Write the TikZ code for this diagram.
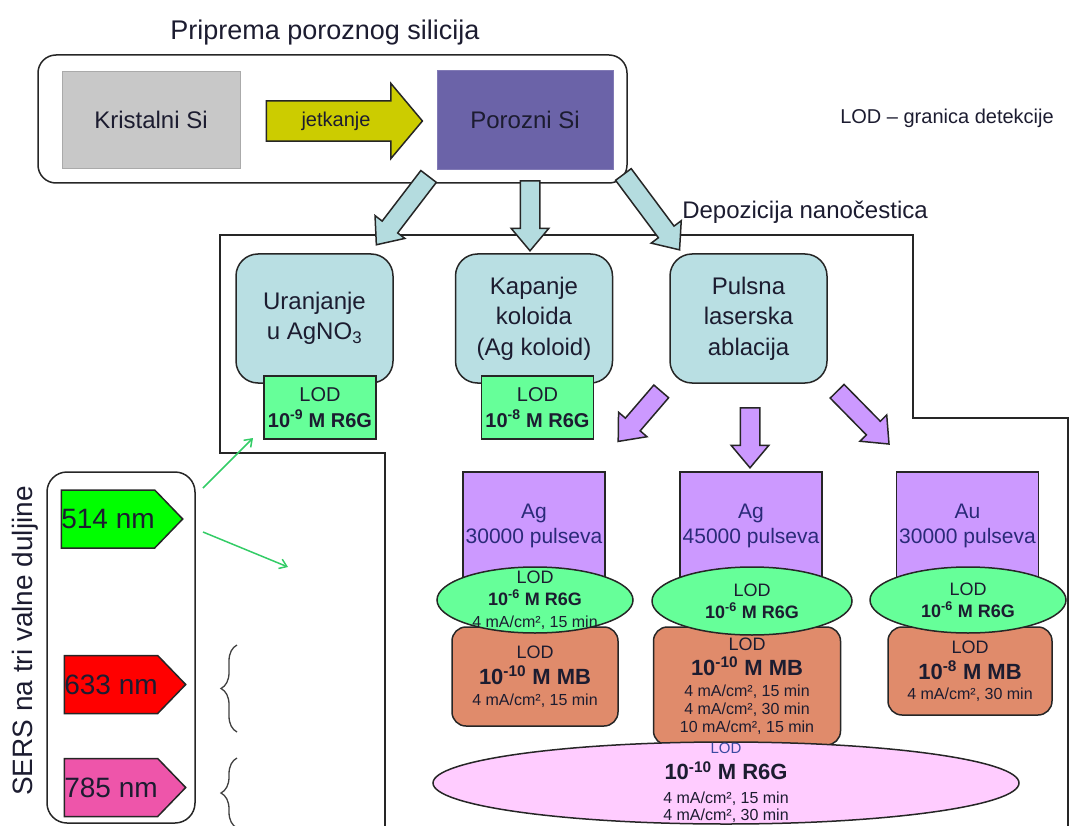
\documentclass[tikz,border=0pt]{standalone}
\usepackage{fontspec}
\setmainfont{Liberation Sans}
\usetikzlibrary{
  shapes.geometric, shapes.arrows, shapes.symbols,
  arrows.meta, decorations.pathreplacing
}
\definecolor{tamnitekst}{HTML}{1C1C30}
\definecolor{metatekst}{HTML}{2A2A78}
\definecolor{kristalsiva}{HTML}{C8C8C8}
\definecolor{porozniljub}{HTML}{6B63A8}
\definecolor{jetkanjezuta}{HTML}{CCCC00}
\definecolor{metodaplava}{HTML}{B9DFE3}
\definecolor{strelicaplava}{HTML}{B4DCDF}
\definecolor{lodzelena}{HTML}{66FF99}
\definecolor{pulsljub}{HTML}{CC99FF}
\definecolor{mbnaranca}{HTML}{E08B6B}
\definecolor{r6groza}{HTML}{FFCCFF}
\definecolor{laserzelena}{HTML}{00FF00}
\definecolor{lasercrvena}{HTML}{FF0000}
\definecolor{laserroza}{HTML}{EE55AA}
\definecolor{tankazelena}{HTML}{33CC66}
\definecolor{lodplava}{HTML}{3A4AA0}
\newcommand{\sitno}{\fontsize{16}{18}\selectfont}
\newcommand{\lodfont}{\fontsize{18}{18}\selectfont}
\newcommand{\krupno}{\fontsize{22}{22}\selectfont\bfseries}

\begin{document}
\begin{tikzpicture}[
  x=1pt, y=-1pt,
  every node/.style={text=tamnitekst},
  okvir/.style={line width=1.5pt, black!85},
  metoda/.style={
    rectangle, rounded corners=22pt,
    minimum width=157pt, minimum height=129pt,
    draw=black!85, line width=1.5pt, fill=metodaplava,
    align=center, font=\fontsize{24}{30.5}\selectfont
  },
  lodkutija/.style={
    rectangle, minimum width=112pt, minimum height=63pt, inner sep=0pt,
    draw=black!85, line width=1.5pt, fill=lodzelena,
    align=center, font=\fontsize{20}{26}\selectfont
  },
  meta/.style={
    rectangle, minimum width=142pt, minimum height=108pt, inner sep=0pt,
    draw=black!85, line width=1.5pt, fill=pulsljub,
    align=center, text=metatekst, font=\fontsize{21}{25}\selectfont
  },
  lodelipsa/.style={
    ellipse, minimum width=196pt, minimum height=66pt, inner sep=0pt,
    draw=black!85, line width=1.5pt, fill=lodzelena
  },
  lodtekst/.style={align=center, font=\fontsize{18}{22}\selectfont},
  mbkutija/.style={
    rectangle, rounded corners=14pt, inner sep=0pt,
    draw=black!85, line width=1.5pt, fill=mbnaranca,
    align=center, font=\sitno
  },
  plavastrelica/.style={
    single arrow, minimum width=36pt, single arrow head extend=9pt,
    single arrow tip angle=80, inner xsep=0pt, inner ysep=9pt,
    draw=black!85, line width=1.5pt, fill=strelicaplava
  },
  ljubstrelica/.style={plavastrelica, fill=pulsljub},
  laser/.style={
    signal, signal to=east, signal pointer angle=92,
    minimum width=120pt, minimum height=58pt, inner sep=0pt,
    draw=black!85, line width=1.5pt, font=\fontsize{28}{28}\selectfont
  },
  zelenastrelica/.style={
    tankazelena, line width=1.5pt,
    -{Straight Barb[length=7pt, width=10pt]}
  },
  zagrada/.style={
    decorate, decoration={brace, amplitude=16pt},
    line width=1.3pt, black!75
  }
]
  \useasboundingbox (0,0) rectangle (1070,826);

  % Priprema poroznog silicija
  \node[font=\fontsize{27}{27}\selectfont] (naslov) at (325,33)
    {Priprema poroznog silicija};
  \node[draw=black!85, line width=1.5pt, rounded corners=18pt,
    minimum width=589pt, minimum height=128pt] (priprema) at (332.5,119) {};
  \node[minimum width=178pt, minimum height=97pt,
    fill=kristalsiva, draw=kristalsiva!85!black,
    font=\fontsize{24}{24}\selectfont] (kristal) at (151,119.5) {Kristalni Si};
  \node[single arrow, minimum height=156pt, minimum width=74pt,
    single arrow head extend=17.5pt, single arrow tip angle=100,
    inner xsep=0pt, inner ysep=10pt,
    draw=black!85, line width=1.5pt, fill=jetkanjezuta,
    font=\fontsize{20}{20}\selectfont] (jetkanje) at (336,121) {jetkanje};
  \node[minimum width=176pt, minimum height=99pt,
    fill=porozniljub, draw=porozniljub!85!white,
    font=\fontsize{24}{24}\selectfont] (porozni) at (525,119.5) {Porozni Si};
  \node[font=\fontsize{20}{20}\selectfont] (legenda) at (947,118)
    {LOD -- granica detekcije};

  % Depozicija nanocestica
  \node[font=\fontsize{24}{24}\selectfont] (depozicija) at (805,212)
    {Depozicija nanočestica};
  \draw[okvir] (385,830) -- (385,453) -- (220,453) -- (220,235)
    -- (913,235) -- (913,418) -- (1068,418) -- (1068,830);
  \node[plavastrelica, minimum height=86pt, rotate=232.6] (put1) at (406,206) {};
  \node[plavastrelica, minimum height=70pt, rotate=270] (put2) at (530,210) {};
  \node[plavastrelica, minimum height=94pt, rotate=-53.3] (put3) at (648,207.5) {};

  % Metode
  \node[metoda] (uranjanje) at (314.5,318.5) {Uranjanje\\u AgNO\textsubscript{3}};
  \node[lodkutija] (lod1) at (320,407.5) {LOD\\\textbf{10\textsuperscript{-9} M R6G}};
  \node[metoda] (kapanje) at (534,318.5) {Kapanje\\koloida\\(Ag koloid)};
  \node[lodkutija] (lod2) at (537.5,407.5) {LOD\\\textbf{10\textsuperscript{-8} M R6G}};
  \node[metoda] (pulsna) at (748.5,318.5) {Pulsna\\laserska\\ablacija};

  % Laserska ablacija
  \node[ljubstrelica, minimum height=66pt, rotate=229.3] (abl1) at (643.5,412) {};
  \node[ljubstrelica, minimum height=60pt, rotate=270] (abl2) at (750,432) {};
  \node[ljubstrelica, minimum height=74pt, rotate=-45.5] (abl3) at (859,413.5) {};

  \node[meta] (ag30) at (534,526) {Ag\\30000 pulseva};
  \node[meta] (ag45) at (751,526) {Ag\\45000 pulseva};
  \node[meta] (au30) at (967.5,526) {Au\\30000 pulseva};

  \node[mbkutija, minimum width=166pt, minimum height=99pt] (mb1) at (535,676.5)
    {{\lodfont LOD}\\[7pt]{\krupno 10\textsuperscript{-10} M MB}\\[3pt]
     4 mA/cm², 15 min};
  \node[mbkutija, minimum width=187pt, minimum height=118pt] (mb2) at (747,686)
    {{\lodfont LOD}\\[6pt]{\krupno 10\textsuperscript{-10} M MB}\\[3pt]
     4 mA/cm², 15 min\\4 mA/cm², 30 min\\10 mA/cm², 15 min};
  \node[mbkutija, minimum width=164pt, minimum height=88pt] (mb3) at (970,671)
    {{\lodfont LOD}\\[7pt]{\krupno 10\textsuperscript{-8} M MB}\\[2pt]
     4 mA/cm², 30 min};

  \node[lodelipsa, label={[lodtekst]center:{LOD\\\textbf{10\textsuperscript{-6} M R6G}\\
    {\sitno 4 mA/cm², 15 min}}}] (e1) at (535,600) {};
  \node[lodelipsa, minimum width=200pt, minimum height=68pt,
    label={[lodtekst]center:{LOD\\\textbf{10\textsuperscript{-6} M R6G}}}] (e2) at (752,601) {};
  \node[lodelipsa, label={[lodtekst]center:{LOD\\\textbf{10\textsuperscript{-6} M R6G}}}]
    (e3) at (968,600) {};

  \node[lodelipsa, fill=r6groza, minimum width=586pt, minimum height=82pt,
    label={[align=center, font=\fontsize{16}{17}\selectfont]center:{%
      {\fontsize{15}{15}\selectfont\color{lodplava}LOD}\\[7pt]
      {\krupno 10\textsuperscript{-10} M R6G}\\[7pt]
      4 mA/cm², 15 min\\4 mA/cm², 30 min}}] (r6g) at (726,783) {};

  % SERS na tri valne duljine
  \node[rotate=90, font=\fontsize{28}{28}\selectfont] (sers) at (25,641)
    {SERS na tri valne duljine};
  \node[draw=black!85, line width=1.5pt, rounded corners=20pt,
    minimum width=148pt, minimum height=351pt] (valovi) at (121,647.5) {};
  \node[laser, fill=laserzelena] (l514) at (108,519) {514 nm};
  \node[laser, fill=lasercrvena] (l633) at (111,684.5) {633 nm};
  \node[laser, fill=laserroza] (l785) at (111,787.5) {785 nm};

  \coordinate (z1a) at (203,488);
  \coordinate (z1b) at (253,438);
  \coordinate (z2a) at (203,532);
  \coordinate (z2b) at (288,567);
  \draw[zelenastrelica] (z1a) -- (z1b);
  \draw[zelenastrelica] (z2a) -- (z2b);

  \draw[zagrada] (237,732) -- (237,645);
  \draw[zagrada] (237,828) -- (237,758);
\end{tikzpicture}
\end{document}
